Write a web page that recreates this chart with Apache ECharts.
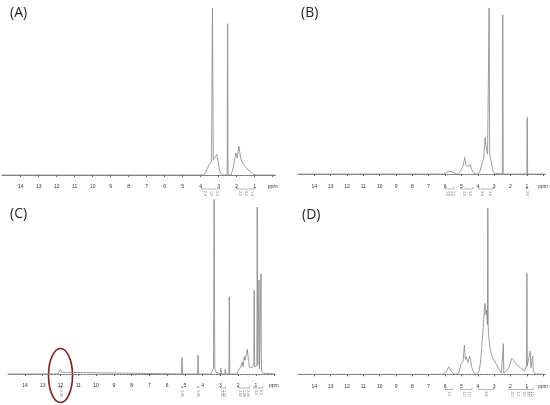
<!DOCTYPE html>
<html>
<head>
<meta charset="utf-8">
<script src="https://cdn.jsdelivr.net/npm/echarts@6/dist/echarts.min.js"></script>
<style>
  html, body { margin: 0; padding: 0; background: #fff; }
  #chart { width: 550px; height: 405px; }
</style>
</head>
<body>
<div id="chart"></div>
<script>
// [ppm, intensity]
const specA = [[15.05,0],[8.2,0],[8.1,0.6],[8.0,0],[3.85,0],[3.72,1.5],[3.62,4],[3.54,6],[3.47,5],[3.40,8],[3.345,98],[3.30,9],[3.22,8.5],[3.11,12],[3.03,8],[2.96,3],[2.88,0.8],[2.75,0],[2.53,0],[2.505,89],[2.48,0],[2.32,0],[2.22,3],[2.12,9],[2.05,13],[1.97,10],[1.88,17],[1.78,10],[1.68,7],[1.58,7.6],[1.48,4.5],[1.38,3],[1.27,4],[1.18,1.5],[1.05,0.3],[0.9,0],[-0.15,0]];
const specB = [[15.0,0],[6.1,0],[5.95,0.5],[5.82,1.5],[5.70,2.6],[5.62,1.5],[5.5,0.4],[5.3,0],[5.15,0.3],[5.05,2],[4.98,3.2],[4.90,5],[4.84,5],[4.79,10],[4.74,5.5],[4.68,5],[4.60,4.5],[4.52,5],[4.46,5.6],[4.38,3],[4.28,0.8],[4.15,0],[3.95,0.3],[3.85,2],[3.76,6],[3.70,7.5],[3.63,10],[3.58,18],[3.55,22],[3.50,17],[3.46,16],[3.40,12],[3.34,13],[3.305,100],[3.27,12],[3.22,11],[3.15,6],[3.08,2],[3.0,0.5],[2.9,0],[2.50,0],[2.47,96],[2.44,0],[1.3,0],[1.22,1.2],[1.15,0],[1.0,0],[0.975,34],[0.95,0],[-0.12,0]];
const specC = [[14.96,0],[12.15,0],[12.05,1],[12.0,2.7],[11.95,1],[11.85,0],[5.2,0],[5.16,9.4],[5.13,0],[4.29,0],[4.26,10.9],[4.23,0],[3.55,0],[3.45,1],[3.39,3],[3.355,110],[3.32,3],[3.25,1],[3.15,0],[3.01,0],[2.98,3.3],[2.95,0],[2.76,0],[2.73,2.7],[2.70,0],[2.525,0],[2.50,44.4],[2.475,0],[2.1,0],[2.02,1],[1.96,2.3],[1.90,1.5],[1.82,5],[1.78,7],[1.72,4],[1.66,10],[1.62,8],[1.55,11],[1.49,14.2],[1.43,9],[1.38,4],[1.32,3],[1.26,3.5],[1.2,2.5],[1.15,3],[1.12,6],[1.10,48],[1.08,4],[1.0,3],[0.95,5],[0.93,96],[0.90,5],[0.86,4],[0.83,54],[0.80,3],[0.75,3],[0.72,57.5],[0.69,2],[0.6,0.5],[0.5,0],[-0.07,0]];
const specD = [[15.0,0],[6.15,0],[6.0,1],[5.88,2.5],[5.78,4.6],[5.70,3.6],[5.6,1.5],[5.45,0.3],[5.3,0],[5.15,1],[5.02,6.6],[4.95,7.6],[4.90,8],[4.82,17.6],[4.76,9],[4.70,10.6],[4.60,7],[4.50,11],[4.44,9],[4.36,4],[4.25,1],[4.1,0],[3.95,1],[3.85,6],[3.76,15.6],[3.70,16],[3.62,35],[3.56,42.7],[3.50,36],[3.45,38.7],[3.41,30],[3.385,100],[3.36,28],[3.31,21],[3.25,16],[3.20,13.6],[3.10,10],[3.0,8.6],[2.85,6],[2.70,3],[2.55,0.8],[2.46,0.5],[2.435,18.6],[2.41,0.5],[2.3,1],[2.2,2.5],[2.10,4],[2.0,7],[1.92,9.6],[1.84,10.6],[1.75,8],[1.66,6],[1.58,5.5],[1.50,5],[1.42,4],[1.35,3.5],[1.25,3],[1.15,2],[1.06,2],[1.02,5],[0.995,61],[0.97,5],[0.85,4],[0.79,14],[0.75,4],[0.70,3],[0.64,11],[0.60,2],[0.5,0.3],[0.4,0],[-0.12,0]];

const panelNames = ['(A)', '(B)', '(C)', '(D)'];
const ppmTicks = [14,13,12,11,10,9,8,7,6,5,4,3,2,1,0];

// integration brackets [from, to] and the (barely legible) values under them
const integA = [[3.95,2.95,['0.9','1.0','2.1']],[2.0,0.98,['2.0','2.1','1.9']]];
const integB = [[6.0,5.45,['1.0','1.0','1.0']],[5.05,4.3,['1.0','1.0']],[3.95,3.05,['3.9','3.0']],[1.02,0.95,['3.0']]];
const integC = [[12.05,11.95,['1.00']],[5.18,5.12,['1.00']],[4.28,4.22,['1.00']],[3.0,2.7,['1.01','1.02']],[2.0,1.35,['2.02','1.99','2.00']],[1.12,0.62,['3.0','6.1']]];
const integD = [[6.0,5.55,['1.0']],[5.05,4.35,['1.0','1.0']],[3.95,3.0,['9.9']],[2.1,1.0,['2.0','1.0','3.0']],[1.0,0.6,['3.0','1.0','1.0']]];

const specs = [specA, specB, specC, specD];
const integs = [integA, integB, integC, integD];

const grids = [
  { left: 1.8, top: 5, width: 273.6, height: 176 },
  { left: 298, top: 8, width: 247.1, height: 173 },
  { left: 7.9, top: 200, width: 267.1, height: 180 },
  { left: 298, top: 208.3, width: 247.1, height: 173.2 }
];
const xRanges = [[-0.15, 15.05], [-0.12, 15.0], [-0.07, 14.96], [-0.12, 15.0]];
const yMins = [-3.53, -4.2, -3.45, -4.3];
const titlePos = [[5, 1], [296, 1], [5, 202], [297, 203]];

const myChart = echarts.init(document.getElementById('chart'));

let option = {
  animation: false,
  backgroundColor: '#fff',
  title: panelNames.map((t, i) => ({
    text: t,
    left: titlePos[i][0],
    top: titlePos[i][1],
    textStyle: { fontFamily: 'Open Sans', fontSize: 14, fontWeight: 'normal', color: '#222' }
  })),
  grid: grids.map(g => Object.assign({ containLabel: false, outerBoundsMode: 'none' }, g)),
  xAxis: grids.map((g, i) => ({
    type: 'value',
    gridIndex: i,
    inverse: true,
    min: xRanges[i][0],
    max: xRanges[i][1],
    splitLine: { show: false },
    axisLine: { show: true, lineStyle: { color: '#7a7a7a', width: 1, type: [2, 1] } },
    axisTick: { show: true, customValues: ppmTicks, length: 2, lineStyle: { color: '#666' } },
    axisLabel: {
      customValues: ppmTicks,
      fontSize: 5,
      color: '#333',
      margin: 3,
      hideOverlap: false,
      formatter: v => (v === 0 ? 'ppm' : String(v))
    }
  })),
  yAxis: grids.map((g, i) => ({
    type: 'value',
    gridIndex: i,
    min: yMins[i],
    max: 100,
    show: false
  })),
  series: specs.map((d, i) => ({
    type: 'line',
    xAxisIndex: i,
    yAxisIndex: i,
    data: d,
    showSymbol: false,
    smooth: false,
    clip: true,
    lineStyle: { color: '#858585', width: 0.8 }
  }))
};

myChart.setOption(option);

// integration brackets + red ellipse, placed through the axes
let graphics = [];
integs.forEach((list, i) => {
  const axY = myChart.convertToPixel({ xAxisIndex: i, yAxisIndex: i }, [0, yMins[i]])[1];
  const by = axY + 8;
  list.forEach(r => {
    const x1 = myChart.convertToPixel({ xAxisIndex: i, yAxisIndex: i }, [r[0], 0])[0];
    const x2 = myChart.convertToPixel({ xAxisIndex: i, yAxisIndex: i }, [r[1], 0])[0];
    graphics.push({
      type: 'polyline',
      silent: true,
      shape: { points: [[x1, by - 2], [x1, by], [x2, by], [x2, by - 2]] },
      style: { stroke: '#888', lineWidth: 0.6, fill: null }
    });
    const n = r[2].length;
    r[2].forEach((txt, k) => {
      const x = n === 1 ? (x1 + x2) / 2 : x1 + (x2 - x1) * (k + 0.5) / n;
      graphics.push({
        type: 'text',
        silent: true,
        x: x,
        y: by + 2,
        rotation: -Math.PI / 2,
        style: { text: txt, fontSize: 3.5, fill: '#666', align: 'left', verticalAlign: 'middle' }
      });
    });
  });
});

const c = myChart.convertToPixel({ xAxisIndex: 2, yAxisIndex: 2 }, [12, 0]);
graphics.push({
  type: 'ellipse',
  silent: true,
  shape: { cx: c[0], cy: c[1] + 1.5, rx: 12, ry: 27 },
  style: { stroke: '#8b1a1a', lineWidth: 1.6, fill: null }
});

myChart.setOption({ graphic: graphics });

window.addEventListener('resize', function () {
  myChart.resize();
});
</script>
</body>
</html>
